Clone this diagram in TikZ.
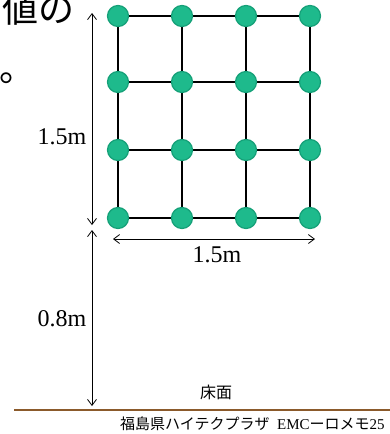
\documentclass[tikz,border=0pt]{standalone}
\usepackage{fontspec}
\setmainfont{Liberation Serif}
\newfontfamily\jpfont{Noto Sans CJK JP}
\usetikzlibrary{arrows.meta}
\definecolor{nodegreen}{HTML}{1EBA8C}
\definecolor{nodeedge}{HTML}{15A078}
\definecolor{floorbrown}{HTML}{8B5A2B}
\tikzset{
  x=1pt, y=-1pt,
  pt/.style={circle, fill=nodegreen, draw=nodeedge, line width=1.2pt, minimum size=21pt, inner sep=0pt},
  gridline/.style={line width=2.8pt, black},
  dim/.style={line width=0.8pt, {Straight Barb[length=6pt,width=9pt]}-{Straight Barb[length=6pt,width=9pt]}},
  lbl/.style={font=\fontsize{24}{24}\selectfont, inner sep=0pt},
}
\begin{document}
\begin{tikzpicture}
\clip (0,0) rectangle (390,434);
\fill[white] (0,0) rectangle (390,434);
% top-left cut text
\node[anchor=base west, inner sep=0pt, font=\jpfont\fontsize{36}{36}\selectfont] (t1) at (2,22) {値の};
\node[anchor=center, inner sep=0pt, font=\jpfont\fontsize{36}{36}\selectfont] (t2) at (17,78) {。};
% grid coordinates
\foreach \i/\x in {1/118,2/182,3/246,4/310}{
  \foreach \j/\y in {1/16,2/82,3/150,4/218}{
    \coordinate (c\i\j) at (\x,\y);
  }
}
% grid lines
\foreach \j in {1,2,3,4}{ \draw[gridline] (c1\j) -- (c4\j); }
\foreach \i in {1,2,3,4}{ \draw[gridline] (c\i1) -- (c\i4); }
% nodes
\foreach \i in {1,2,3,4}{
  \foreach \j in {1,2,3,4}{
    \node[pt] (n\i\j) at (c\i\j) {};
  }
}
% dimension arrows
\coordinate (v1a) at (92,13);
\coordinate (v1b) at (92,225);
\coordinate (v2a) at (92,230);
\coordinate (v2b) at (92,406);
\coordinate (h1a) at (113,239);
\coordinate (h1b) at (315,239);
\draw[dim] (v1a) -- (v1b);
\draw[dim] (v2a) -- (v2b);
\draw[dim] (h1a) -- (h1b);
\node[lbl] (l1) at (62,137) {1.5m};
\node[lbl] (l2) at (217,255) {1.5m};
\node[lbl] (l3) at (62,319) {0.8m};
% floor
\coordinate (f1) at (14,410);
\coordinate (f2) at (392,410);
\draw[floorbrown, line width=1.8pt] (f1) -- (f2);
\node[font=\jpfont\fontsize{16}{16}\selectfont, inner sep=0pt] (floor) at (216,392) {床面};
\node[anchor=west, inner sep=0pt, font=\fontsize{15}{15}\selectfont] (credit) at (120,424) {{\jpfont 福島県ハイテクプラザ}\ \ EMC{\jpfont ーロメモ}25};
\end{tikzpicture}
\end{document}
